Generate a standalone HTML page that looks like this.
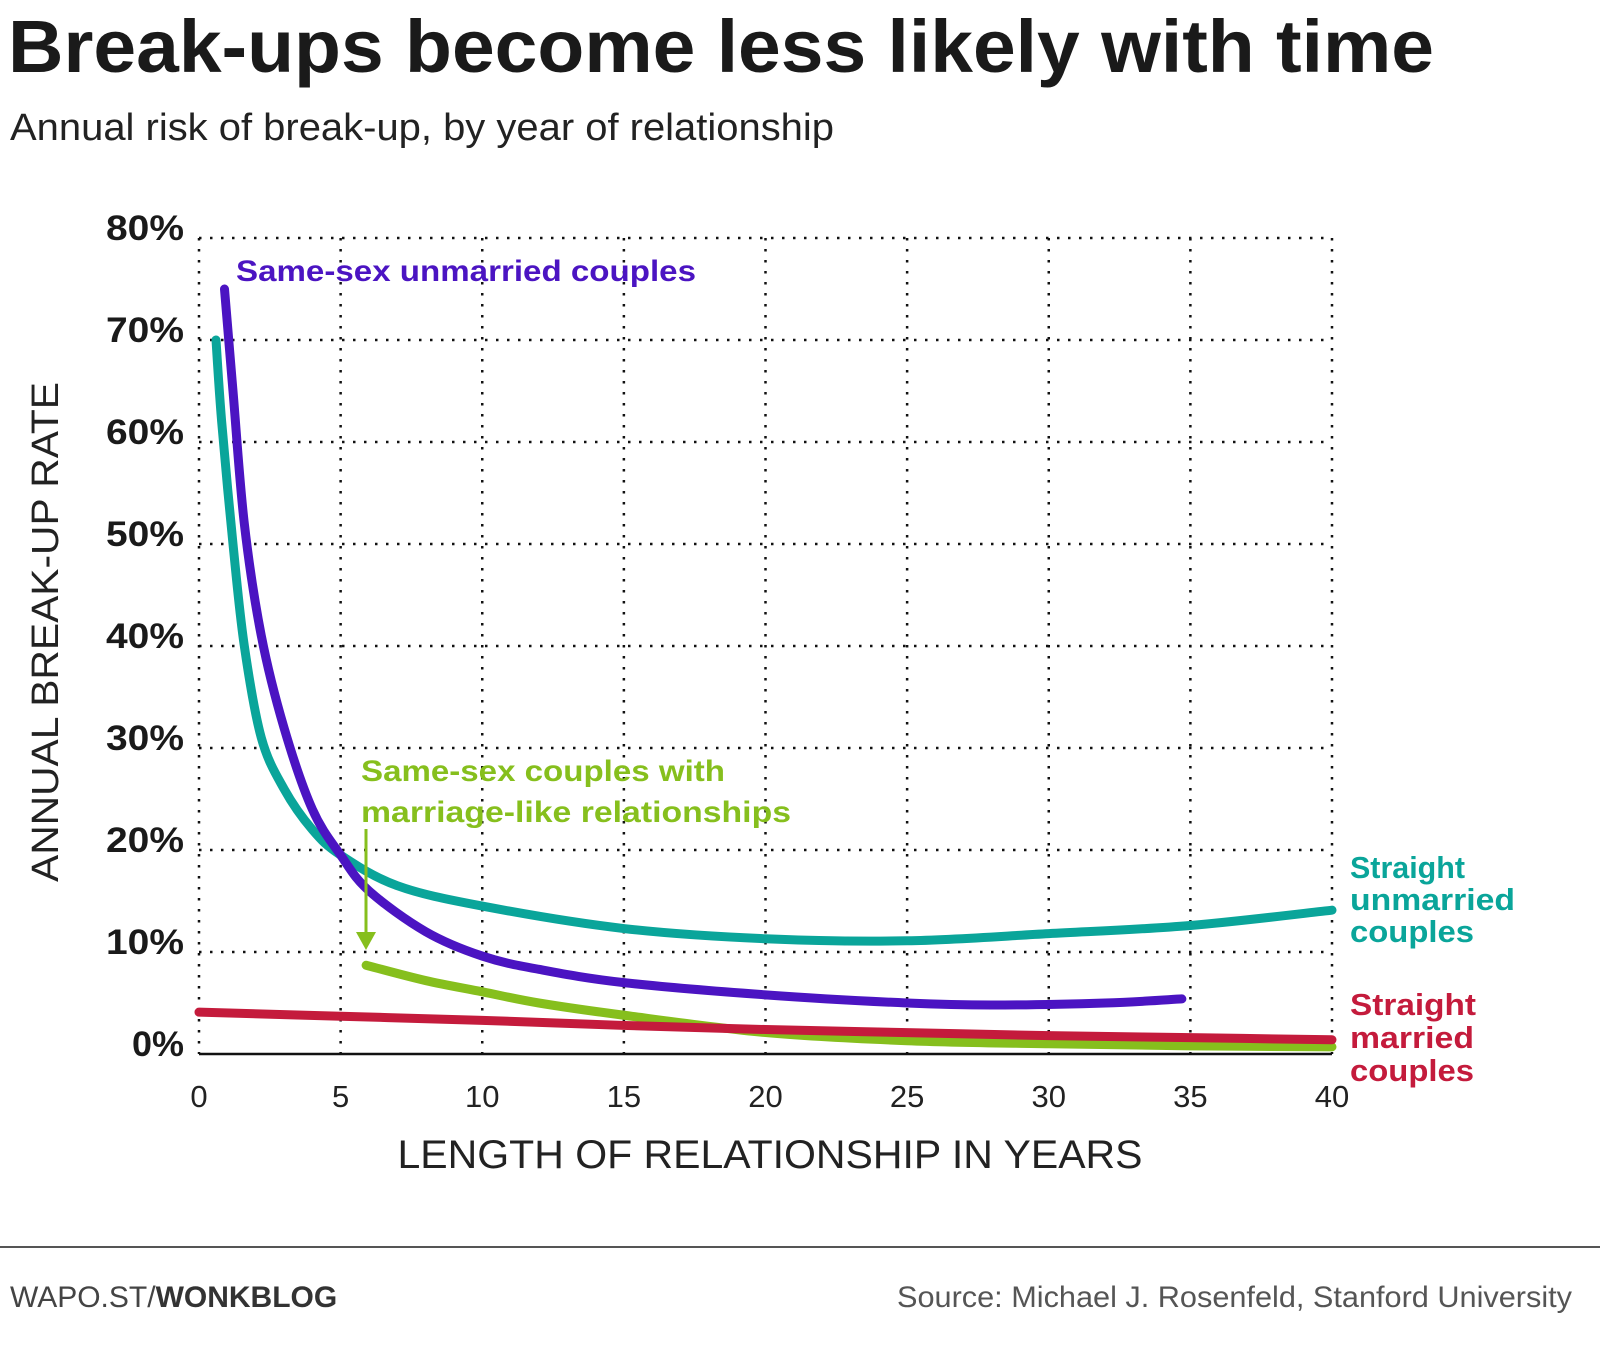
<!DOCTYPE html>
<html><head><meta charset="utf-8"><style>
html,body{margin:0;padding:0;background:#fff;}
svg{display:block;font-family:"Liberation Sans",sans-serif;}
</style></head><body>
<svg id="chart" width="1600" height="1352" viewBox="0 0 1600 1352" xmlns="http://www.w3.org/2000/svg">
<text x="8" y="72" font-size="74" font-weight="bold" fill="#1a1a1a" textLength="1426" lengthAdjust="spacingAndGlyphs">Break-ups become less likely with time</text>
<text x="10" y="140" font-size="38" fill="#222" textLength="824" lengthAdjust="spacingAndGlyphs">Annual risk of break-up, by year of relationship</text>
<g id="grid"></g>
<g id="yticks"></g>
<g id="xticks"></g>
<text transform="translate(58,632) rotate(-90)" text-anchor="middle" font-size="38" fill="#222" textLength="500" lengthAdjust="spacingAndGlyphs">ANNUAL BREAK-UP RATE</text>
<text x="770" y="1168" text-anchor="middle" font-size="40" fill="#222" textLength="745" lengthAdjust="spacingAndGlyphs">LENGTH OF RELATIONSHIP IN YEARS</text>
<g id="series"></g>
<text x="236" y="281" font-size="30" font-weight="bold" fill="#4b14c2" textLength="460" lengthAdjust="spacingAndGlyphs">Same-sex unmarried couples</text>
<g font-size="30" font-weight="bold" fill="#86bf1d">
<text x="361" y="781" textLength="364" lengthAdjust="spacingAndGlyphs">Same-sex couples with</text>
<text x="361" y="822" textLength="430" lengthAdjust="spacingAndGlyphs">marriage-like relationships</text>
</g>
<line x1="366" y1="829" x2="366" y2="935" stroke="#86bf1d" stroke-width="3"/>
<polygon points="356,932 376,932 366,950" fill="#86bf1d"/>
<g font-size="31" font-weight="bold" fill="#0aa59a">
<text x="1350" y="878" textLength="115" lengthAdjust="spacingAndGlyphs">Straight</text><text x="1350" y="910" textLength="165" lengthAdjust="spacingAndGlyphs">unmarried</text><text x="1350" y="942" textLength="124" lengthAdjust="spacingAndGlyphs">couples</text>
</g>
<g font-size="31" font-weight="bold" fill="#c41b3c">
<text x="1350" y="1015" textLength="126" lengthAdjust="spacingAndGlyphs">Straight</text><text x="1350" y="1048" textLength="124" lengthAdjust="spacingAndGlyphs">married</text><text x="1350" y="1081" textLength="124" lengthAdjust="spacingAndGlyphs">couples</text>
</g>
<line x1="0" y1="1247" x2="1600" y2="1247" stroke="#555" stroke-width="2"/>
<text x="10" y="1307" font-size="30" fill="#444">WAPO.ST/<tspan font-weight="bold" fill="#333">WONKBLOG</tspan></text>
<text x="1572" y="1307" text-anchor="end" font-size="30" fill="#555" textLength="675" lengthAdjust="spacingAndGlyphs">Source: Michael J. Rosenfeld, Stanford University</text>
</svg>
<script>
const xTicks=[0,5,10,15,20,25,30,35,40];
const yTicks=[0,10,20,30,40,50,60,70,80];
const sameSexYears=[0.9,1.2,1.6,2.2,3,4,5,6,8,10,12,15,20,25,28,32,34.7];
const sameSexRates=[75,65,52,41,32,24,19.5,16,12,9.6,8.3,7,5.8,5.0,4.8,5.0,5.4];
const unmarriedYears=[0.6,0.8,1.2,1.6,2.2,3,4,5,7,10,15,20,25,30,35,40];
const unmarriedRates=[70,62,50,40,31,26,22,19.5,16.5,14.5,12.3,11.3,11.1,11.8,12.6,14.1];
const marriageLikeYears=[5.9,8,10,12,15,20,25,30,35,40];
const marriageLikeRates=[8.7,7.2,6.1,5.0,3.8,2.1,1.3,1.0,0.8,0.7];
const marriedYears=[0,5,10,15,20,25,30,35,40];
const marriedRates=[4.1,3.7,3.3,2.8,2.4,2.1,1.8,1.6,1.4];

const NS="http://www.w3.org/2000/svg";
const X=v=>199+v*(1133/40);
const Y=v=>1054-v*10.2;
function mk(tag,attrs,parent){const e=document.createElementNS(NS,tag);for(const k in attrs)e.setAttribute(k,attrs[k]);parent.appendChild(e);return e;}
const grid=document.getElementById('grid');
xTicks.forEach(t=>{
  const l=mk('line',{x1:X(t),x2:X(t),y1:Y(80),y2:Y(0),stroke:'#111','stroke-width':2.5,'stroke-dasharray':'2.5 8.5'},grid);
  
  
  const tx=mk('text',{x:X(t),y:1107,'text-anchor':'middle','font-size':31,fill:'#222'},document.getElementById('xticks'));
  tx.textContent=t;
  
  
});
yTicks.forEach(t=>{
  if(t>0){const l=mk('line',{x1:X(0),x2:X(40),y1:Y(t),y2:Y(t),stroke:'#111','stroke-width':2.5,'stroke-dasharray':'2.5 8.5'},grid);
  
  }
  const tx=mk('text',{x:184,y:Y(t)+2,'text-anchor':'end','font-size':35,'font-weight':'bold',fill:'#1a1a1a',textLength:78,lengthAdjust:'spacingAndGlyphs'},document.getElementById('yticks'));
  tx.textContent=t+'%';
  if(t===0){tx.setAttribute('textLength',52);}
  
  
});
const ax=mk('line',{x1:X(0),x2:X(40),y1:Y(0),y2:Y(0),stroke:'#111','stroke-width':2.5},grid);


function path(xs,ys){
  const p=xs.map((x,i)=>[X(x),Y(ys[i])]);
  let d='M'+p[0][0]+','+p[0][1];
  for(let i=0;i<p.length-1;i++){
    const p0=p[i-1]||p[i],p1=p[i],p2=p[i+1],p3=p[i+2]||p2;
    d+=' C'+(p1[0]+(p2[0]-p0[0])/6)+','+(p1[1]+(p2[1]-p0[1])/6)+' '+(p2[0]-(p3[0]-p1[0])/6)+','+(p2[1]-(p3[1]-p1[1])/6)+' '+p2[0]+','+p2[1];
  }
  return d;
}
const S=document.getElementById('series');
const ln=(xs,ys,c,name)=>{const e=mk('path',{d:path(xs,ys),fill:'none',stroke:c,'stroke-width':9,'stroke-linecap':'round','stroke-linejoin':'round'},S);
  
  };
ln(marriageLikeYears,marriageLikeRates,'#86bf1d','line-same-sex-marriage-like');
ln(marriedYears,marriedRates,'#c41b3c','line-straight-married');
ln(unmarriedYears,unmarriedRates,'#0aa59a','line-straight-unmarried');
ln(sameSexYears,sameSexRates,'#4b14c2','line-same-sex-unmarried');
</script>
</body></html>
